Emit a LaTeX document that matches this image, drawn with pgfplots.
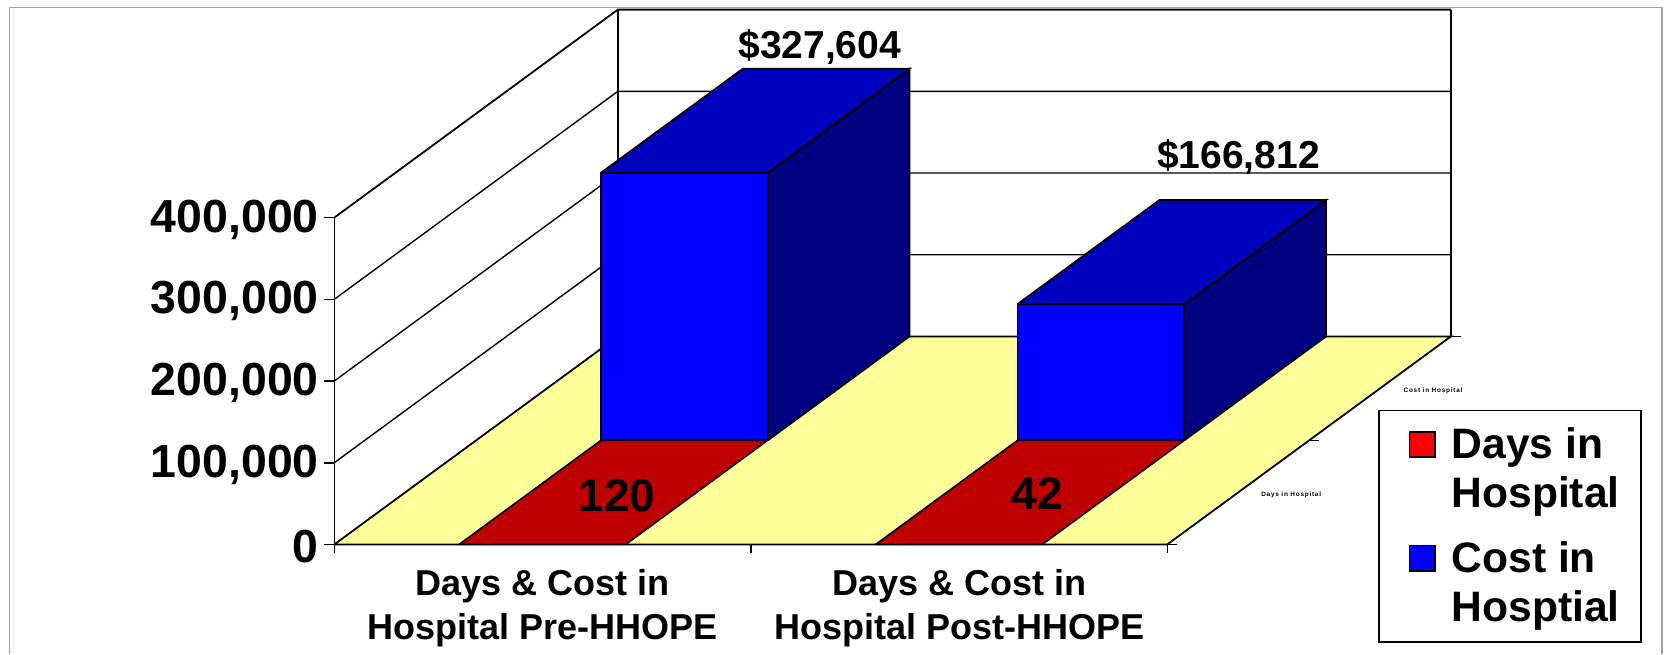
\documentclass[border=0pt]{standalone}
\usepackage{fontspec}
\setmainfont{Liberation Sans}
\usepackage{pgfplots}
\pgfplotsset{compat=1.18}
\definecolor{floorY}{HTML}{FFFF99}
\definecolor{barBlue}{HTML}{0000FF}
\definecolor{topBlue}{HTML}{0000BF}
\definecolor{sideBlue}{HTML}{000080}
\definecolor{topRed}{HTML}{BF0000}
\definecolor{frameGray}{HTML}{A0A0A0}
\newcommand{\bfs}[1]{\fontsize{#1}{#1}\bfseries\selectfont}
\begin{document}
\begin{tikzpicture}
\path[use as bounding box] (0,0) rectangle (832pt,-327pt);
\draw[frameGray,line width=0.8pt] (4.8pt,-327pt) -- (4.8pt,-3.7pt) -- (831pt,-3.7pt) -- (831pt,-327pt);
\begin{axis}[
  at={(167.15pt,-272.2pt)}, anchor=origin,
  x={(208.25pt,0pt)}, y={(70.9pt,52pt)}, z={(0pt,40.85pt)},
  z coord trafo/.code={\begingroup\pgfkeys{/pgf/fpu=true}\pgfmathparse{#1/100000}\pgfmathsmuggle\pgfmathresult\endgroup},
  xmin=0, xmax=2, ymin=0, ymax=2, zmin=0, zmax=400000,
  clip=false,
  axis x line=bottom, axis y line=right, axis z line=left,
  axis line style={draw=none},
  tick style={draw=none},
  major tick length=0pt,
  xtick={0.5,1.5},
  xticklabels={{Days \& Cost in\\Hospital Pre-HHOPE},{Days \& Cost in\\Hospital Post-HHOPE}},
  xticklabel style={font=\fontsize{18}{21.8}\bfseries\selectfont, align=center, anchor=center, xshift=0pt, yshift=-30pt, text depth=0pt},
  ytick={0.5,1.5},
  yticklabels={Days in Hospital,Cost in Hospital},
  yticklabel style={font=\bfs{3.2}\addfontfeatures{LetterSpace=12}, anchor=center, xshift=443pt, yshift=-164.4pt},
  ztick={0,100000,200000,300000,400000},
  zticklabels={0,{100,000},{200,000},{300,000},{400,000}},
  zticklabel style={font=\bfs{23.2}, anchor=east, xshift=-4.3pt, yshift=-1pt},
  legend style={at={(axis cs:2.5057,0,164935)}, anchor=north west, draw=black, line width=0.9pt,
    font=\fontsize{21.3}{24.7}\bfseries\selectfont, cells={anchor=west, align=left},
    legend cell align=left, inner xsep=8.8pt, inner ysep=6.5pt, row sep=11.3pt,
    /tikz/every odd column/.append style={column sep=5.9pt}},
]
% walls
\addplot3[black,line width=0.7pt,forget plot] coordinates {(0,0,100000)(0,2,100000)(2,2,100000)};
\addplot3[black,line width=0.7pt,forget plot] coordinates {(0,0,200000)(0,2,200000)(2,2,200000)};
\addplot3[black,line width=0.7pt,forget plot] coordinates {(0,0,300000)(0,2,300000)(2,2,300000)};
\addplot3[black,line width=0.9pt,forget plot] coordinates {(0,0,400000)(0,2,400000)(2,2,400000)};
\addplot3[black,line width=0.8pt,forget plot] coordinates {(0,0,0)(0,0,400000)};
\addplot3[black,line width=0.8pt,forget plot] coordinates {(0,2,0)(0,2,400000)};
\addplot3[black,line width=0.8pt,forget plot] coordinates {(2,2,0)(2,2,400000)};
% floor
\addplot3[fill=floorY,draw=black,line width=0.9pt,forget plot] coordinates {(0,0,0)(2,0,0)(2,2,0)(0,2,0)(0,0,0)};
% ticks
\addplot3[black,line width=0.8pt,forget plot] coordinates {(-0.024,0,0)(0,0,0)};
\addplot3[black,line width=0.8pt,forget plot] coordinates {(-0.024,0,100000)(0,0,100000)};
\addplot3[black,line width=0.8pt,forget plot] coordinates {(-0.024,0,200000)(0,0,200000)};
\addplot3[black,line width=0.8pt,forget plot] coordinates {(-0.024,0,300000)(0,0,300000)};
\addplot3[black,line width=0.8pt,forget plot] coordinates {(-0.024,0,400000)(0,0,400000)};
\addplot3[black,line width=0.8pt,forget plot] coordinates {(0,0,0)(0,0,-10000)};
\addplot3[black,line width=0.8pt,forget plot] coordinates {(1,0,0)(1,0,-10000)};
\addplot3[black,line width=0.8pt,forget plot] coordinates {(2,0,0)(2,0,-10000)};
\addplot3[black,line width=0.8pt,forget plot] coordinates {(2,0,0)(2.024,0,0)};
\addplot3[black,line width=0.8pt,forget plot] coordinates {(2,1,0)(2.024,1,0)};
\addplot3[black,line width=0.8pt,forget plot] coordinates {(2,2,0)(2.024,2,0)};
% cost, pre
\addplot3[fill=sideBlue,draw=black,line width=0.9pt,forget plot] coordinates {(0.7,1,0)(0.7,2,0)(0.7,2,327604)(0.7,1,327604)(0.7,1,0)};
\addplot3[fill=topBlue,draw=black,line width=0.9pt,forget plot] coordinates {(0.3,1,327604)(0.7,1,327604)(0.7,2,327604)(0.3,2,327604)(0.3,1,327604)};
\addplot3[fill=barBlue,draw=black,line width=0.9pt,forget plot] coordinates {(0.3,1,0)(0.7,1,0)(0.7,1,327604)(0.3,1,327604)(0.3,1,0)};
% cost, post
\addplot3[fill=sideBlue,draw=black,line width=0.9pt,forget plot] coordinates {(1.7,1,0)(1.7,2,0)(1.7,2,166812)(1.7,1,166812)(1.7,1,0)};
\addplot3[fill=topBlue,draw=black,line width=0.9pt,forget plot] coordinates {(1.3,1,166812)(1.7,1,166812)(1.7,2,166812)(1.3,2,166812)(1.3,1,166812)};
\addplot3[fill=barBlue,draw=black,line width=0.9pt,forget plot] coordinates {(1.3,1,0)(1.7,1,0)(1.7,1,166812)(1.3,1,166812)(1.3,1,0)};
% days
\addplot3[fill=topRed,draw=black,line width=0.8pt,forget plot] coordinates {(0.3,0,120)(0.7,0,120)(0.7,1,120)(0.3,1,120)(0.3,0,120)};
\addplot3[fill=topRed,draw=black,line width=0.8pt,forget plot] coordinates {(1.3,0,42)(1.7,0,42)(1.7,1,42)(1.3,1,42)(1.3,0,42)};
% labels
\node[font=\bfs{23}] at (axis cs:0.5,0.5,120) [xshift=1.8pt,yshift=-1.6pt] {120};
\node[font=\bfs{23}] at (axis cs:1.5,0.5,42) [xshift=3.8pt,yshift=-0.5pt] {42};
\node[font=\bfs{19.5}] at (axis cs:0.5,1.5,327604) [xshift=32.2pt,yshift=37pt] {\$327,604};
\node[font=\bfs{19.5}] at (axis cs:1.5,1.5,166812) [xshift=33.4pt,yshift=47.3pt] {\$166,812};
% legend
\addlegendimage{legend image code/.code={\path (0pt,0pt); \draw[fill=red,draw=black,line width=0.8pt] (6.15pt,6pt) rectangle (18.85pt,18.7pt);}}
\addlegendentry{Days in\\Hospital}
\addlegendimage{legend image code/.code={\path (0pt,0pt); \draw[fill=barBlue,draw=black,line width=0.8pt] (6.15pt,6pt) rectangle (18.85pt,18.7pt);}}
\addlegendentry{Cost in\\Hosptial}
\end{axis}
\end{tikzpicture}
\end{document}
